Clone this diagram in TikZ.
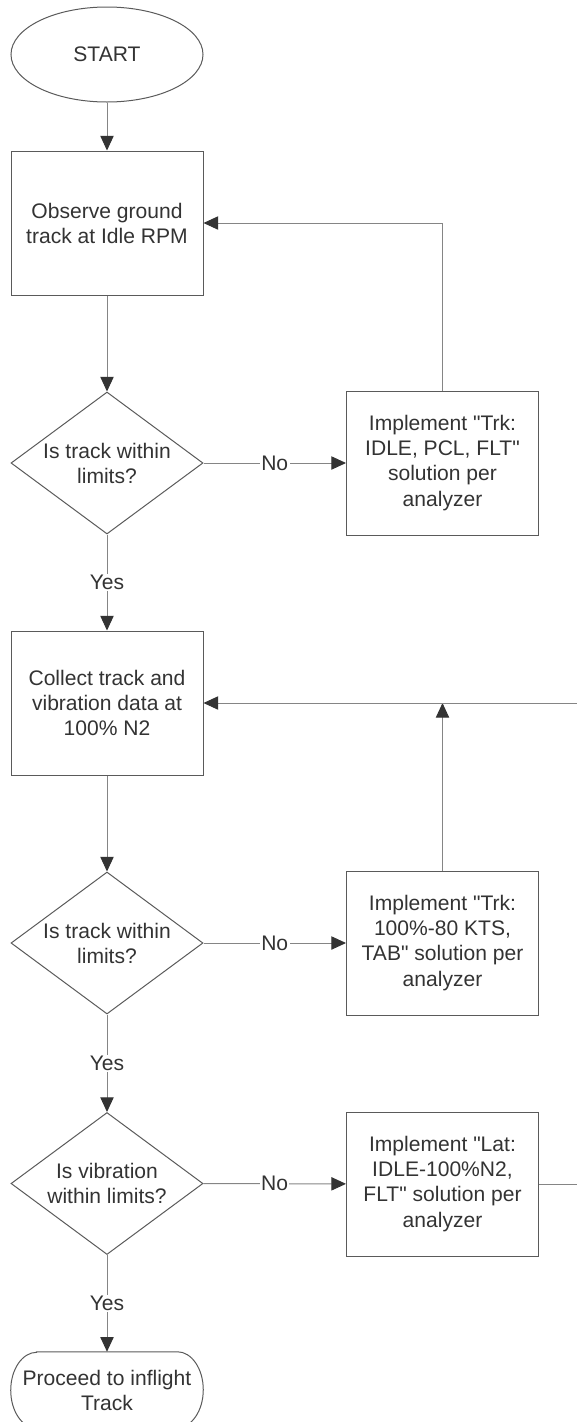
\documentclass[tikz,border=0pt]{standalone}
\usepackage{fontspec}
\setmainfont{Liberation Sans}[Ligatures=TeXOff]
\usepackage{tikz}
\usetikzlibrary{shapes.geometric, arrows.meta}
\definecolor{ink}{HTML}{333333}
\definecolor{rim}{HTML}{5A5A5A}
\definecolor{wire}{HTML}{858585}

\begin{document}
\begin{tikzpicture}[
            x=0.75pt, y=-0.75pt, % one unit is one pixel of the chart
            every node/.style={font=\fontsize{15.8}{18.8}\selectfont, text=ink, align=center}, % text of all nodes
            terminal/.style={ellipse, draw=rim, line width=0.75pt, minimum width=144pt, minimum height=71.25pt}, % start oval
            process/.style={rectangle, draw=rim, line width=0.75pt, minimum width=144pt, minimum height=108pt}, % step box
            decision/.style={diamond, draw=rim, line width=0.75pt, minimum width=144pt, minimum height=106.5pt, inner sep=0pt}, % question
            stopbox/.style={rectangle, minimum width=144pt, minimum height=57pt, inner sep=0pt}, % end box, outline drawn below
            flow/.style={draw=wire, line width=0.75pt, -{Triangle[length=11pt, width=10pt, color=ink]}}, % connector
            answer/.style={fill=white, inner sep=1pt} % Yes / No on a connector
            ]

                \useasboundingbox (0,0) rectangle (577,1422);

                % Left column
                \node[terminal] (start) at (107,54.5) {START};
                \node[process] (observe) at (107,223) {Observe ground\\track at Idle RPM};
                \node[decision, label={center:Is track within\\limits?}] (check1) at (107,463) {};
                \node[process] (collect) at (107,703) {Collect track and\\vibration data at\\100\% N2};
                \node[decision, label={center:Is track within\\limits?}] (check2) at (107,943) {};
                \node[decision, label={center:Is vibration\\within limits?}] (check3) at (107,1183.5) {};
                \node[stopbox] (stop) at (107,1390) {Proceed to inflight\\Track};
                \draw[draw=rim, line width=0.75pt] ([xshift=19.5pt]stop.north west) -- ([xshift=-19.5pt]stop.north east)
                    arc[start angle=90, end angle=-90, x radius=19.5pt, y radius=28.5pt]
                    -- ([xshift=19.5pt]stop.south west)
                    arc[start angle=270, end angle=90, x radius=19.5pt, y radius=28.5pt] -- cycle;

                % Right column
                \node[process] (fix1) at (442.5,463) {Implement "Trk:\\IDLE, PCL, FLT"\\solution per\\analyzer};
                \node[process] (fix2) at (442.5,943) {Implement "Trk:\\100\%-80 KTS,\\TAB" solution per\\analyzer};
                \node[process] (fix3) at (442.5,1184) {Implement "Lat:\\IDLE-100\%N2,\\FLT" solution per\\analyzer};

                % Connectors
                \draw[flow] (start) -- (observe);
                \draw[flow] (observe) -- (check1);
                \draw[flow] (check1) -- node[answer] (no1) {No} (fix1);
                \draw[flow] (fix1) |- (observe);
                \draw[flow] (check1) -- node[answer] (yes1) {Yes} (collect);
                \draw[flow] (collect) -- (check2);
                \draw[flow] (check2) -- node[answer] (no2) {No} (fix2);
                \draw[flow] (fix2) -- (fix2 |- collect.east);
                \draw[flow] (check2) -- node[answer] (yes2) {Yes} (check3);
                \draw[flow] (check3) -- node[answer] (no3) {No} (fix3);
                \draw[flow] (fix3.east) -- ++(80,0) |- (collect.east);
                \draw[flow] (check3) -- node[answer] (yes3) {Yes} (stop);

            \end{tikzpicture}
\end{document}
